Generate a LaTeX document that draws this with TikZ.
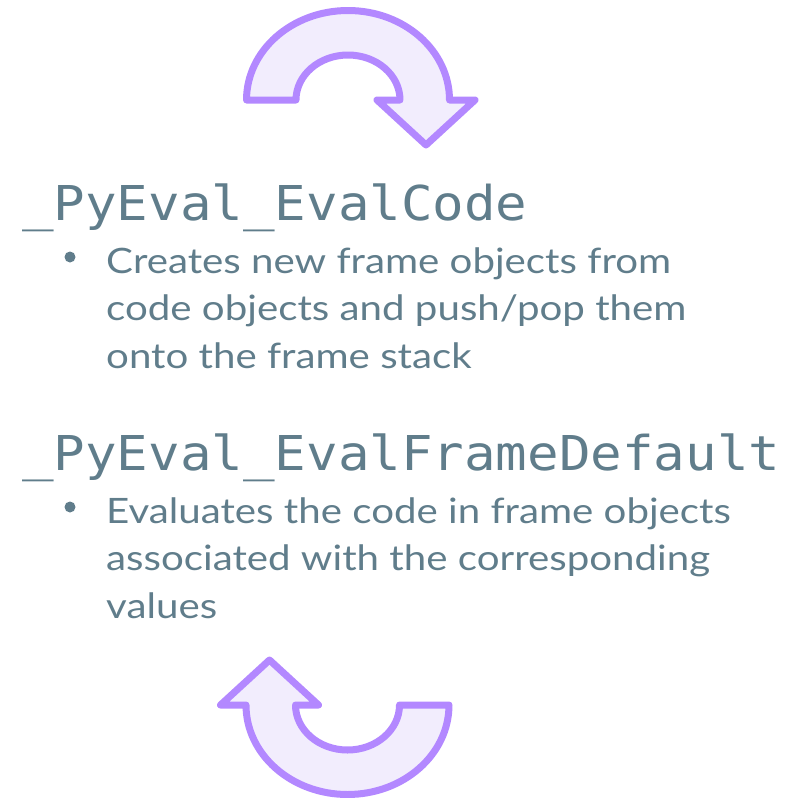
\documentclass[tikz,border=0pt]{standalone}
\usepackage{fontspec}
\setmainfont[FakeStretch=1.15]{Lato}
\newfontfamily\codefont[FakeStretch=1.093]{DejaVu Sans Mono}
\definecolor{slate}{HTML}{607D8B}
\definecolor{arrowline}{HTML}{B388FF}
\definecolor{arrowfill}{HTML}{F2EDFD}
\tikzset{
  title/.style={anchor=base west, inner sep=0pt, text=slate, font=\codefont\fontsize{48}{56}\selectfont},
  bodyline/.style={anchor=base west, inner sep=0pt, text=slate, font=\fontsize{35}{42}\selectfont},
  bulletdot/.style={circle, fill=slate, inner sep=0pt, minimum size=11pt},
  curvedarrow/.pic={
    \draw[arrowline, fill=arrowfill, line width=7pt, line join=round]
      (-101.5,0) arc[start angle=180, end angle=0, x radius=101.5, y radius=89.5]
      -- (127,0) -- (78,-45) -- (29,0) -- (52,0)
      arc[start angle=0, end angle=180, x radius=52, y radius=45] -- cycle;
  }
}
\begin{document}
\begin{tikzpicture}[x=1pt, y=-1pt]
  \useasboundingbox (0,0) rectangle (796,798);

  % loop arrows above and below the text
  \pic[yscale=-1] (toparrow) at (348,100) {curvedarrow};
  \pic[xscale=-1] (bottomarrow) at (347.5,705) {curvedarrow};

  % first function
  \node[title] (evalcode) at (22,220) {\_PyEval\_EvalCode};
  \node[bulletdot] (dot1) at (70,257) {};
  \node[bodyline] (l1a) at (106,273) {Creates new frame objects from};
  \node[bodyline] (l1b) at (106,320.5) {code objects and push/pop them};
  \node[bodyline] (l1c) at (106,368) {onto the frame stack};

  % second function
  \node[title] (evalframe) at (22,470) {\_PyEval\_EvalFrameDefault};
  \node[bulletdot] (dot2) at (70,507) {};
  \node[bodyline] (l2a) at (106,523) {Evaluates the code in frame objects};
  \node[bodyline] (l2b) at (106,570.5) {associated with the corresponding};
  \node[bodyline] (l2c) at (106,618) {values};
\end{tikzpicture}
\end{document}
